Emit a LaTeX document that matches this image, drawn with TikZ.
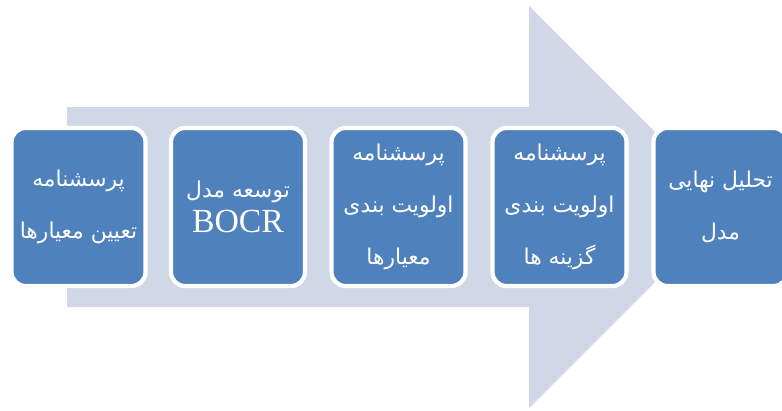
\documentclass[tikz,border=0pt]{standalone}
\usepackage{fontspec}
\newfontfamily\arabicfont[Script=Arabic]{DejaVu Sans}
\newfontfamily\latinfont{Liberation Serif}
\TeXXeTstate=1
\definecolor{stepblue}{HTML}{4F81BD}
\definecolor{arrowgray}{HTML}{D0D8E8}

\begin{document}
\begin{tikzpicture}[
                    x=0.025cm,
                    y=-0.025cm,
                    stage/.style={rectangle, rounded corners=10pt, draw=white,
                        line width=3pt, fill=stepblue, text=white,
                        minimum width=3.35cm, minimum height=3.95cm,
                        align=center, font=\arabicfont\fontsize{15.5}{37}\selectfont},
                ]
                \useasboundingbox (0,0) rectangle (782,410);
                \clip (0,0) rectangle (782,410);

                % big arrow behind the stages
                \fill[arrowgray] (67,107) -- (529,107) -- (529,6) -- (730,207)
                    -- (529,408) -- (529,307) -- (67,307) -- cycle;

                \node[stage] (s1) at (78.5,207) {\beginR پرسشنامه\endR\\ \beginR تعیین معیارها\endR};
                \node[stage] (s2) at (238,207) {\beginR توسعه مدل\endR\\[-12pt] {\latinfont\fontsize{24}{26}\selectfont BOCR}};
                \node[stage] (s3) at (398.5,207) {\beginR پرسشنامه\endR\\ \beginR اولویت بندی\endR\\ \beginR معیارها\endR};
                \node[stage] (s4) at (559.5,207) {\beginR پرسشنامه\endR\\ \beginR اولویت بندی\endR\\ \beginR گزینه ها\endR};
                \node[stage] (s5) at (720.5,207) {\beginR تحلیل نهایی\endR\\ \beginR مدل\endR};
            \end{tikzpicture}
\end{document}
